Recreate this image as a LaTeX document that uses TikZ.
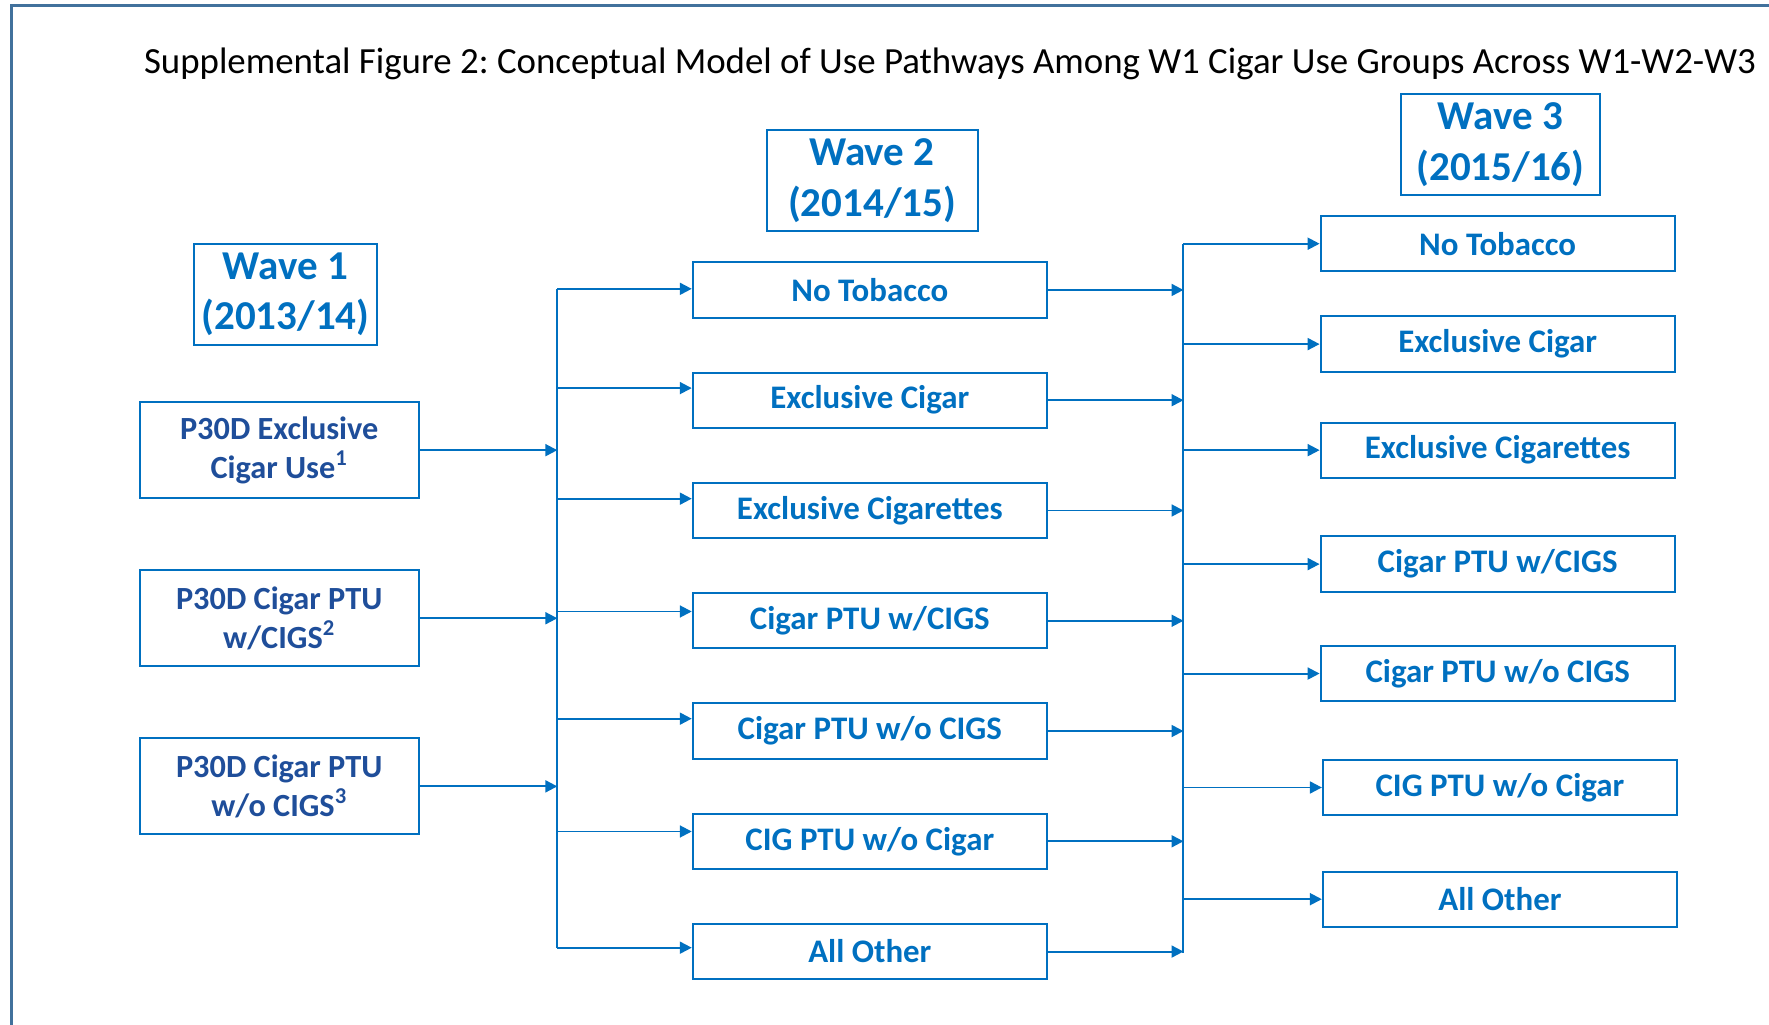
\documentclass[tikz,border=0pt]{standalone}
\usepackage{fontspec}
\setmainfont{Carlito}
\usepackage{xcolor}
\usepackage{tikz}
\usetikzlibrary{arrows.meta,positioning,calc}
\definecolor{wblue}{HTML}{0070C0}
\definecolor{wnavy}{HTML}{1F4E9A}
\definecolor{wframe}{HTML}{41719C}
\frenchspacing

\begin{document}
\begin{tikzpicture}[
    x=0.02cm, y=-0.02cm,
    node distance=0.94cm,
    wave/.style={draw=wblue, line width=1pt, text=wblue, align=center, inner sep=0pt, minimum width=3.24cm, minimum height=1.8cm, font=\bfseries\fontsize{20.7}{25.5}\selectfont},
    start/.style={draw=wblue, line width=1pt, text=wnavy, align=center, inner sep=0pt, minimum width=4.94cm, minimum height=1.7cm, font=\bfseries\fontsize{16.3}{19.6}\selectfont},
    group/.style={draw=wblue, line width=1pt, text=wblue, inner sep=0pt, minimum width=6.28cm, minimum height=0.98cm, font=\bfseries\fontsize{16.6}{20}\selectfont},
    line/.style={draw=wblue, line width=1pt},
    arrow/.style={line, -{Triangle[length=6pt, width=6pt]}}
]
    \useasboundingbox (0,0) rectangle (1568,908.5);
    \draw[wframe, line width=1.5pt] (10.6,908.5) -- (10.6,5.3) -- (1568,5.3);

    \node[anchor=base, font=\fontsize{18.6}{22}\selectfont] (title) at (842,65)
        {Supplemental Figure 2: Conceptual Model of Use Pathways Among W1 Cigar Use Groups Across W1-W2-W3};

    % Wave headers
    \node[wave] (wave1) at (253,261) {Wave 1\\(2013/14)};
    \node[wave, minimum width=3.74cm] (wave2) at (773,160) {Wave 2\\(2014/15)};
    \node[wave, minimum width=3.52cm] (wave3) at (1330,128) {Wave 3\\(2015/16)};

    % Wave 1 groups
    \node[start] (start1) at (247.5,399) {P30D Exclusive\\Cigar Use\textsuperscript{1}};
    \node[start] (start2) at (247.5,548) {P30D Cigar PTU\\w/CIGS\textsuperscript{2}};
    \node[start] (start3) at (247.5,697) {P30D Cigar PTU\\w/o CIGS\textsuperscript{3}};

    % Wave 2 groups
    \node[group] (mid1) at (771,257) {No Tobacco};
    \node[group, below=of mid1] (mid2) {Exclusive Cigar};
    \node[group, below=of mid2] (mid3) {Exclusive Cigarettes};
    \node[group, below=of mid3] (mid4) {Cigar PTU w/CIGS};
    \node[group, below=of mid4] (mid5) {Cigar PTU w/o CIGS};
    \node[group, below=of mid5] (mid6) {CIG PTU w/o Cigar};
    \node[group, below=of mid6] (mid7) {All Other};

    % Wave 3 groups
    \node[group] (late1) at (1327.5,216) {No Tobacco};
    \node[group] (late2) at (1327.5,305) {Exclusive Cigar};
    \node[group] (late3) at (1327.5,399) {Exclusive Cigarettes};
    \node[group] (late4) at (1327.5,500) {Cigar PTU w/CIGS};
    \node[group] (late5) at (1327.5,597) {Cigar PTU w/o CIGS};
    \node[group] (late6) at (1329.5,698) {CIG PTU w/o Cigar};
    \node[group] (late7) at (1329.5,797) {All Other};

    % W1 -> W2
    \coordinate (bus1top) at (494,256);
    \coordinate (bus1end) at (494,840);
    \draw[line] (bus1top) -- (bus1end);
    \foreach \i in {1,2,3}
        \draw[arrow] (start\i.east) -- (start\i.east -| bus1top);
    \foreach \i/\y in {1/256,2/344,3/442,4/542,5/637,6/737,7/840} {
        \coordinate (split\i) at (494,\y);
        \draw[arrow] (split\i) -- (split\i -| mid\i.west);
    }

    % W2 -> W3
    \coordinate (bus2top) at (1049,216);
    \coordinate (bus2end) at (1049,845);
    \draw[line] (bus2top) -- (bus2end);
    \foreach \i in {1,...,7} {
        \draw[arrow] (mid\i.east) -- (mid\i.east -| bus2top);
        \draw[arrow] (late\i.west -| bus2top) -- (late\i.west);
    }
\end{tikzpicture}
\end{document}
